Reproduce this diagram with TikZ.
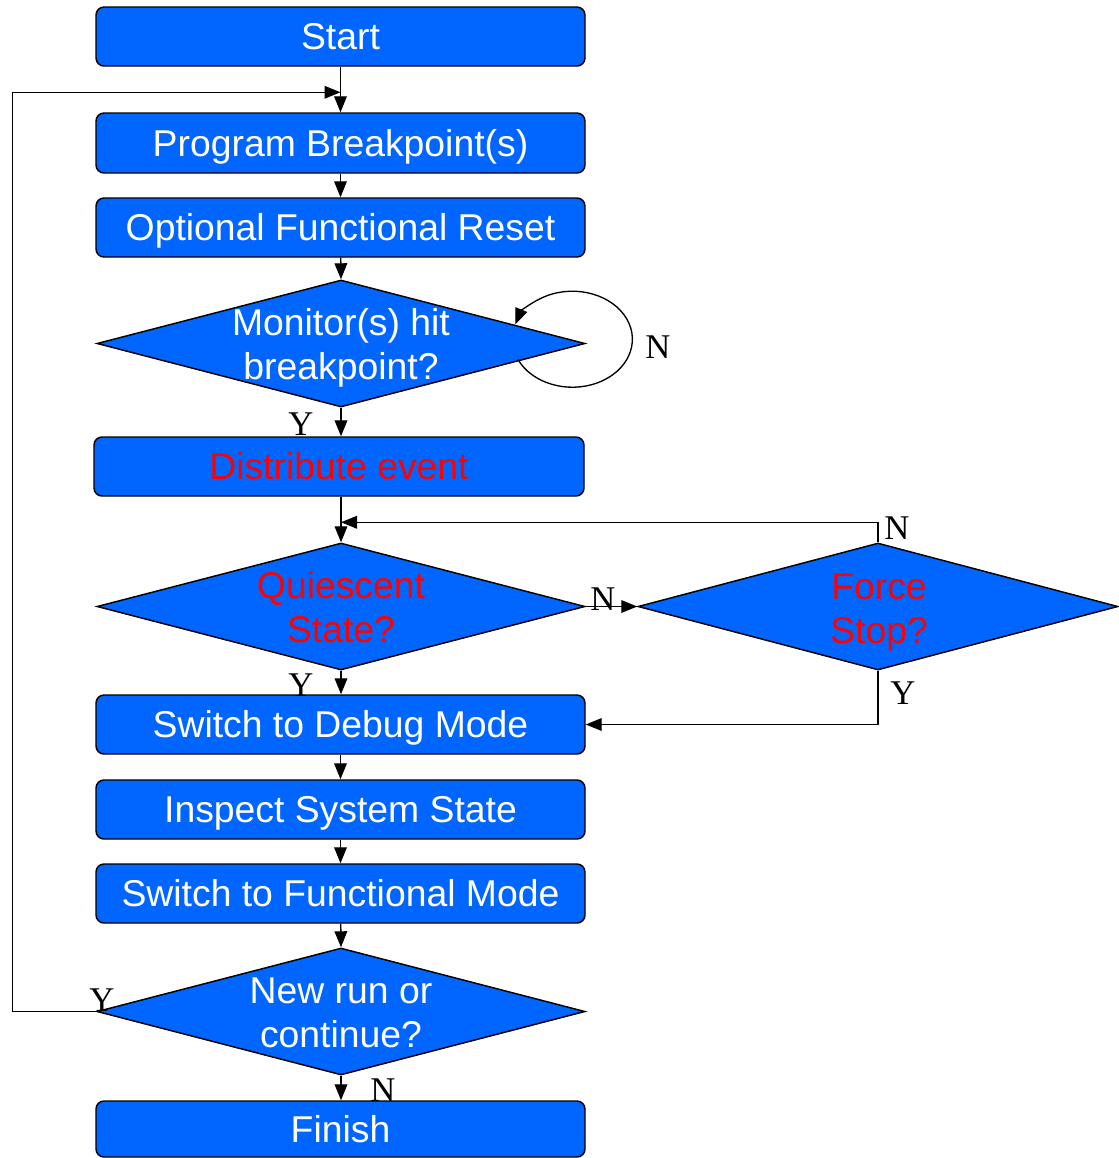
\documentclass[tikz,border=0pt]{standalone}
\usepackage{fontspec}
\setmainfont{Liberation Sans}
\newfontfamily\ynfont{Liberation Serif}
\usetikzlibrary{shapes.geometric,arrows.meta}
\definecolor{flowblue}{RGB}{0,102,255}
\definecolor{flowred}{RGB}{255,0,0}
\begin{document}
\begin{tikzpicture}[x=0.75pt,y=-0.75pt,
  procbox/.style={draw=black, line width=1.1pt, fill=flowblue, rounded corners=6pt,
    minimum width=366.75pt, minimum height=44.25pt, inner sep=0pt,
    text height=20pt, text depth=0pt, font=\fontsize{28}{33}\selectfont, text=white},
  decision/.style={draw=black, line width=1.1pt, fill=flowblue, shape=diamond,
    minimum width=366pt, minimum height=95.25pt, inner sep=0pt},
  dtext/.style={align=center, font=\fontsize{28}{33}\selectfont, text=white, inner sep=0pt},
  arr/.style={draw=black, line width=1pt, -{Triangle[length=12pt,width=9.5pt]}},
  yn/.style={font=\ynfont\fontsize{26}{26}\selectfont, inner sep=0pt}
]
\clip (0,0) rectangle (1119,1158);

% process boxes
\node[procbox] (start)   at (340.5,36.5)  {Start};
\node[procbox, minimum height=45pt] (prog) at (340.5,143) {Program Breakpoint(s)};
\node[procbox] (reset)   at (340.5,227.5) {Optional Functional Reset};
\node[procbox, minimum width=367.5pt, text=flowred] (dist) at (339,466.5) {Distribute event};
\node[procbox] (debug)   at (340.5,724.5) {Switch to Debug Mode};
\node[procbox] (inspect) at (340.5,809.5) {Inspect System State};
\node[procbox] (func)    at (340.5,893.5) {Switch to Functional Mode};
\node[procbox, minimum height=42pt] (finish) at (340.5,1129) {Finish};

% decisions
\node[decision] (mon)    at (341,343.5) {};
\node[dtext] (monT) at ([shift={(0,4)}]mon.center) {Monitor(s) hit\\breakpoint?};
\node[decision] (qui)    at (341,606.5) {};
\node[dtext, text=flowred] (quiT) at ([shift={(0,1)}]qui.center) {Quiescent\\State?};
\node[decision, minimum width=360pt] (force) at (878,606.5) {};
\node[dtext, text=flowred] (forceT) at ([shift={(1,6)}]force.center) {Force\\Stop?};
\node[decision] (newrun) at (341,1011.5) {};
\node[dtext] (newrunT) at ([shift={(0,1)}]newrun.center) {New run or\\continue?};

% main flow
\draw[arr] (start) -- (prog);
\draw[arr] (prog) -- (reset);
\draw[arr] (reset) -- (mon.north);
\draw[arr] (mon.south) -- (mon.south |- dist.north);
\draw[arr] (qui.north |- dist.south) -- (qui.north);
\draw[arr] (qui.east) -- (force.west);
\draw[arr] (qui.south) -- (qui.south |- debug.north);
\draw[arr] (force.south) |- (debug.east);
\draw[arr] (force.north) |- ([shift={(0,-20)}]qui.north);
\draw[arr] (debug) -- (inspect);
\draw[arr] (inspect) -- (func);
\draw[arr] (func) -- (newrun.north);
\draw[arr] (newrun.south) -- (newrun.south |- finish.north);
\draw[arr] (newrun.west) -- ++(-84,0) |- ([shift={(0,-20)}]prog.north);

% wait loop on the breakpoint decision
\draw[arr] ([shift={(177,16)}]mon.center) arc[start angle=155, end angle=-162, x radius=60, y radius=48];

% branch labels
\node[yn] (lmonN)   at (658,347)  {N};
\node[yn] (lmonY)   at (301,424)  {Y};
\node[yn] (lforceN) at (897,528)  {N};
\node[yn] (lquiN)   at (603,599)  {N};
\node[yn] (lquiY)   at (301,685)  {Y};
\node[yn] (lforceY) at (903,693)  {Y};
\node[yn] (lnewY)   at (102,1000) {Y};
\node[yn] (lnewN)   at (383,1090) {N};
\end{tikzpicture}
\end{document}
